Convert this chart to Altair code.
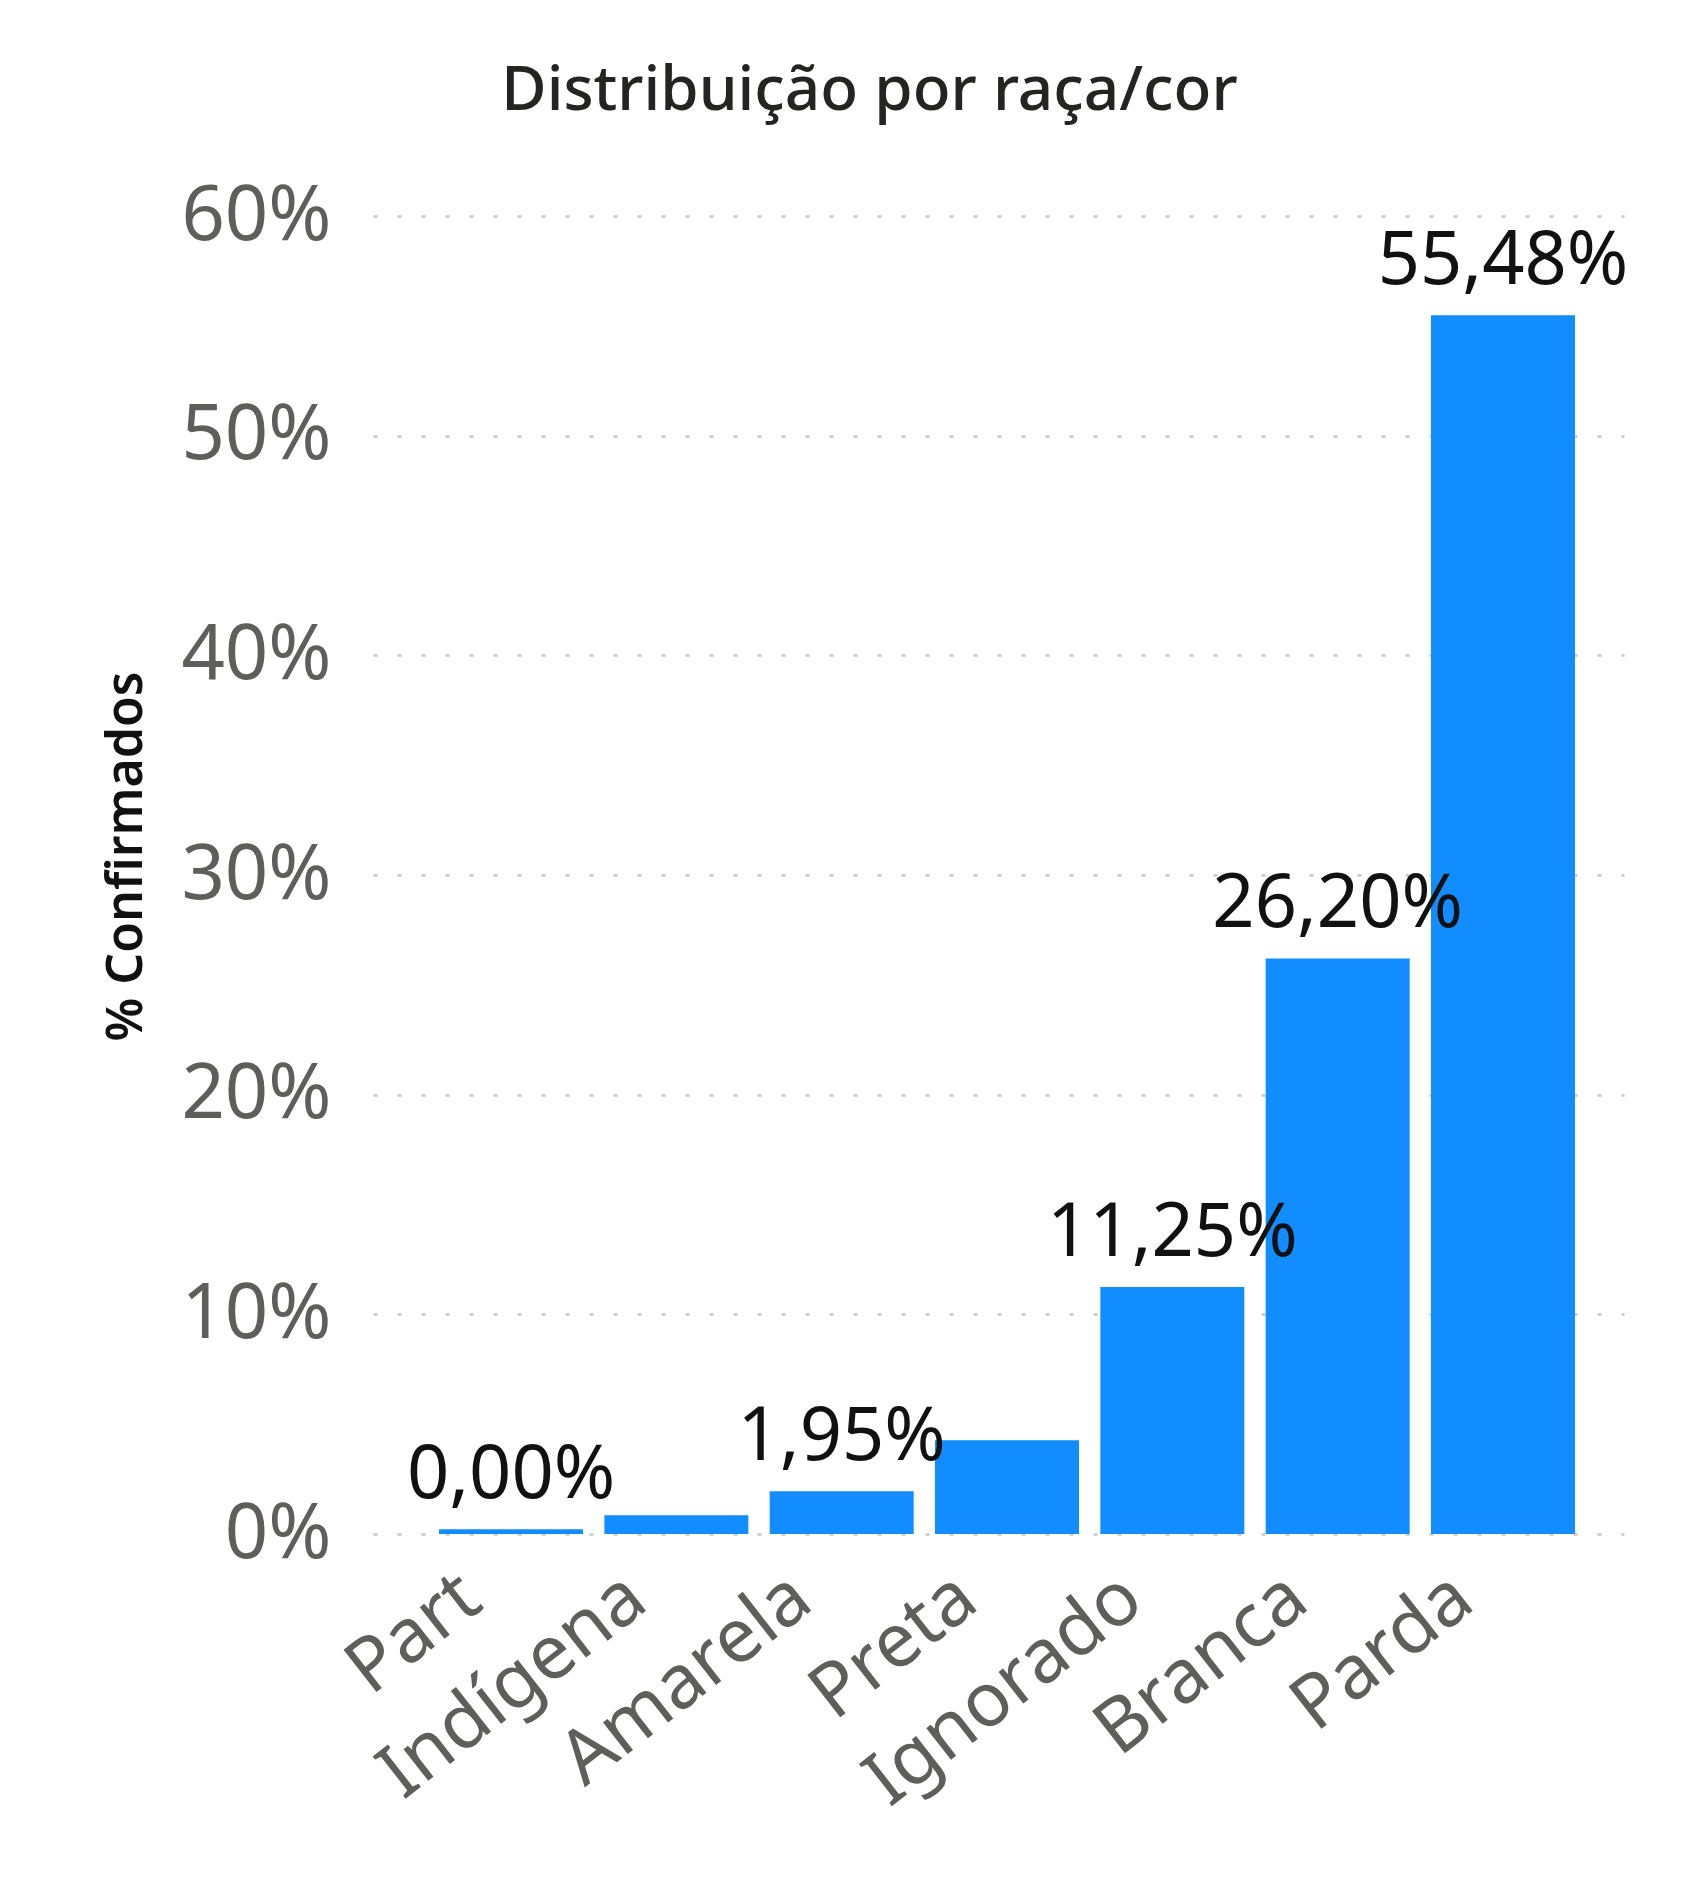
import altair as alt
import pandas as pd

categories = ["Part", "Indígena", "Amarela", "Preta", "Ignorado", "Branca", "Parda"]
values = [0.22, 0.85, 1.95, 4.27, 11.25, 26.20, 55.48]
label_texts = ["0,00%", "", "1,95%", "", "11,25%", "26,20%", "55,48%"]
y_ticks = [0, 10, 20, 30, 40, 50, 60]

df = pd.DataFrame({"cat": categories, "val": values, "lbl": label_texts})

FONT = "Noto Sans"

x_enc = alt.X(
    "cat:N",
    sort=categories,
    title=None,
    scale=alt.Scale(paddingInner=0.129, paddingOuter=0.348, align=0.574),
    axis=alt.Axis(
        labelAngle=322,
        labelAlign="right",
        labelBaseline="top",
        labelFontSize=75,
        labelColor="#605E5C",
        labelFont=FONT,
        labelPadding=26,
        labelOffset=-62,
        labelLimit=2000,
        ticks=False,
        domain=False,
        grid=False,
        labelOverlap=False,
    ),
)

y_enc = alt.Y(
    "val:Q",
    title="% Confirmados",
    scale=alt.Scale(domain=[0, 60], nice=False),
    axis=alt.Axis(
        values=y_ticks,
        labelExpr="datum.value + '%'",
        labelFontSize=76,
        labelColor="#605E5C",
        labelFont=FONT,
        labelPadding=42,
        ticks=False,
        domain=False,
        grid=True,
        gridColor="#C8C6C4",
        gridDash=[4, 20],
        gridWidth=2.5,
        titleFont=FONT,
        titleFontSize=50,
        titleFontWeight=600,
        titleColor="#111111",
        titleAngle=270,
        titleAlign="center",
        titleBaseline="middle",
        titleX=-247,
        titleY=640,
    ),
)

bars = alt.Chart(df).mark_bar(color="#118DFF").encode(x=x_enc, y=y_enc)

labels = (
    alt.Chart(df)
    .transform_filter("datum.lbl != ''")
    .mark_text(
        baseline="alphabetic",
        align="center",
        dy=-31,
        fontSize=74,
        font=FONT,
        color="#111111",
    )
    .encode(
        x=alt.X("cat:N", sort=categories),
        y=alt.Y("val:Q"),
        text="lbl:N",
    )
)

chart = (
    alt.layer(bars, labels)
    .properties(
        width=1251,
        height=1318,
        padding={"left": 365, "top": 208, "right": 40, "bottom": 320},
        autosize=alt.AutoSizeParams(type="none"),
        title=alt.TitleParams(
            "Distribuição por raça/cor",
            font=FONT,
            fontSize=62,
            fontWeight=500,
            color="#252423",
            anchor="middle",
            frame="group",
            baseline="alphabetic",
            offset=6,
            dx=-129,
        ),
        background="white",
    )
    .configure_view(stroke=None)
)

chart.save("out.html", embed_options={"renderer": "svg", "actions": False})
